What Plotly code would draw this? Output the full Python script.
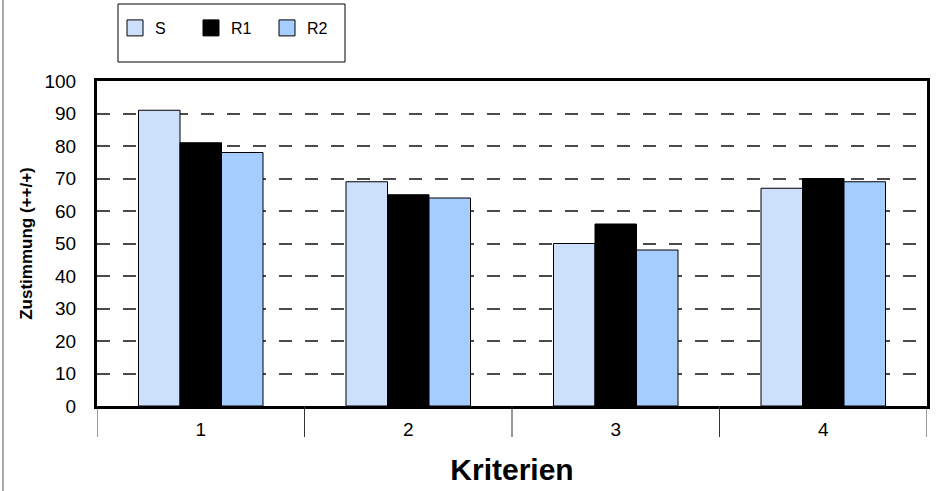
import plotly.graph_objects as go

categories = ["1", "2", "3", "4"]
series_names = ["S", "R1", "R2"]
values_S = [91, 69, 50, 67]
values_R1 = [81, 65, 56, 70]
values_R2 = [78, 64, 48, 69]
y_ticks = [0, 10, 20, 30, 40, 50, 60, 70, 80, 90, 100]

colors = {"S": "#CCE0FB", "R1": "#000000", "R2": "#A6CDFF"}
series_values = {"S": values_S, "R1": values_R1, "R2": values_R2}

FONT = "Liberation Sans, Arial, sans-serif"

fig = go.Figure()
for name in series_names:
    fig.add_trace(go.Bar(
        x=categories, y=series_values[name], name=name, legendgroup=name,
        showlegend=False,
        marker=dict(color=colors[name], line=dict(color="#000000", width=1)),
    ))
# legend entries with larger square swatches
for name in series_names:
    fig.add_trace(go.Scatter(
        x=[None], y=[None], name=name, legendgroup=name, mode="markers",
        marker=dict(symbol="square", size=22, color=colors[name],
                    line=dict(color="#000000", width=1)),
        hoverinfo="skip",
    ))

L, R, T, B = 97, 14, 81, 85
W, H = 941, 491
pw, ph = W - L - R, H - T - B

def px_x(x):
    return (x - L) / pw

def px_y(y):
    return (H - B - y) / ph

shapes = [
    dict(type="rect", xref="paper", yref="paper",
         x0=px_x(118), x1=px_x(345), y0=px_y(62), y1=px_y(4),
         line=dict(color="black", width=1), fillcolor="rgba(0,0,0,0)", layer="below"),
    dict(type="line", xref="paper", yref="paper",
         x0=px_x(3), x1=px_x(3), y0=px_y(491), y1=px_y(0),
         line=dict(color="#555555", width=1)),
]
# category boundary tick lines below the axis
for i in range(len(categories) + 1):
    shapes.append(dict(type="line", xref="x", yref="paper",
                       x0=i - 0.5, x1=i - 0.5, y0=0, y1=px_y(437),
                       line=dict(color="#333333", width=1)))

fig.update_layout(
    width=W, height=H,
    margin=dict(l=L, r=R, t=T, b=B, autoexpand=False),
    paper_bgcolor="white", plot_bgcolor="white",
    barmode="group", bargap=0.4, bargroupgap=0,
    font=dict(family=FONT, color="black", size=15),
    showlegend=True,
    legend=dict(
        orientation="h", x=px_x(115), y=px_y(11), xanchor="left", yanchor="top",
        bgcolor="rgba(0,0,0,0)", borderwidth=0,
        font=dict(family=FONT, size=16, color="black"),
        entrywidth=31, entrywidthmode="pixels", itemsizing="trace",
        traceorder="normal",
    ),
    shapes=shapes,
)

fig.update_xaxes(
    type="category", range=[-0.5, len(categories) - 0.5],
    showline=True, linecolor="black", linewidth=3, mirror=True,
    ticks="", ticklabelstandoff=4,
    tickfont=dict(family=FONT, size=19, color="black"),
    showgrid=False,
    title=dict(text="<b>Kriterien</b>", font=dict(family=FONT, size=30, color="black"), standoff=21),
)

fig.update_yaxes(
    range=[0, 100], tickvals=y_ticks,
    showline=True, linecolor="black", linewidth=3, mirror=True,
    ticks="", ticklabelstandoff=14,
    tickfont=dict(family=FONT, size=19, color="black"),
    showgrid=True, gridcolor="#4a4a4a", gridwidth=1.5, griddash="13px,13px",
    zeroline=False,
    title=dict(text="<b>Zustimmung (++/+)</b>", font=dict(family=FONT, size=17, color="black"), standoff=8),
)

fig.write_html("out.html", config={"displayModeBar": False},
               post_script="document.body.style.margin='0';document.body.style.overflow='hidden';")
